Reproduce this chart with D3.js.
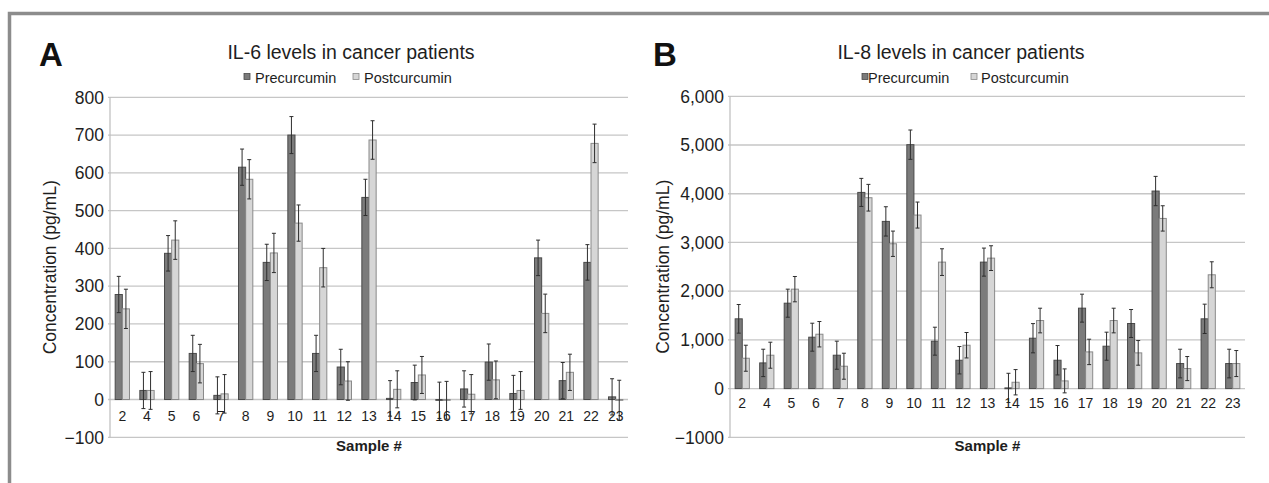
<!DOCTYPE html>
<html>
<head>
<meta charset="utf-8">
<script src="https://cdn.jsdelivr.net/npm/d3@7"></script>
<style>
  html, body { margin: 0; padding: 0; background: #fff; }
  svg { display: block; font-family: "Liberation Sans", Arial, Helvetica, sans-serif; }
</style>
</head>
<body>
<svg id="chart" width="1269" height="483"></svg>
<script>
// ---------- DATA ----------
const samples = ["2","4","5","6","7","8","9","10","11","12","13","14","15","16","17","18","19","20","21","22","23"];
const seriesNames = ["Precurcumin", "Postcurcumin"];

// Panel A: IL-6 (pg/mL)
const il6Pre     = [278, 24, 387, 122, 11, 615, 363, 700, 122, 86, 535, 3, 45, -2, 28, 99, 16, 375, 50, 363, 7];
const il6Post    = [240, 24, 422, 95, 15, 583, 388, 467, 349, 49, 687, 27, 65, -2, 14, 52, 24, 228, 72, 678, -2];
const il6PreErr  = [48, 48, 47, 48, 49, 48, 48, 49, 48, 47, 48, 47, 46, 48, 48, 48, 48, 47, 48, 47, 48];
const il6PostErr = [52, 50, 51, 51, 51, 52, 52, 48, 51, 51, 51, 49, 49, 50, 52, 50, 50, 51, 48, 51, 53];
const il6Ticks      = [-100, 0, 100, 200, 300, 400, 500, 600, 700, 800];
const il6TickLabels = ["\u2212100", "0", "100", "200", "300", "400", "500", "600", "700", "800"];

// Panel B: IL-8 (pg/mL)
const il8Pre     = [1432, 527, 1753, 1055, 685, 4027, 3432, 5007, 973, 582, 2596, 14, 1034, 582, 1651, 870, 1336, 4055, 514, 1432, 514];
const il8Post    = [623, 685, 2041, 1116, 459, 3918, 2973, 3562, 2596, 890, 2678, 130, 1397, 158, 753, 1397, 733, 3493, 411, 2336, 514];
const il8PreErr  = [294, 281, 288, 287, 288, 288, 301, 301, 287, 281, 288, 300, 300, 302, 287, 288, 287, 301, 294, 301, 294];
const il8PostErr = [267, 267, 260, 261, 267, 274, 260, 267, 274, 261, 254, 260, 253, 246, 261, 253, 253, 260, 247, 267, 267];
const il8Ticks      = [-1000, 0, 1000, 2000, 3000, 4000, 5000, 6000];
const il8TickLabels = ["\u22121000", "0", "1,000", "2,000", "3,000", "4,000", "5,000", "6,000"];

// ---------- DRAW ----------
const svg = d3.select("#chart");
const TEXT = "#1e1e1e";
const PRE_FILL = "#7b7b7b", PRE_STROKE = "#4a4a4a";
const POST_FILL = "#d6d6d6", POST_STROKE = "#8a8a8a";
const GRID = "#c6c6c6";

// frame
svg.append("path")
  .attr("d", "M9.5,483 L9.5,13.5 L1269,13.5")
  .attr("fill", "none").attr("stroke", "#8c8c8c").attr("stroke-width", 3.5);

function drawPanel(cfg) {
  const g = svg.append("g");
  const x = d3.scaleBand().domain(samples).range([cfg.left, cfg.right]).padding(0);
  const y = d3.scaleLinear().domain(cfg.domain).range([cfg.bottom, cfg.top]);
  const bw = x.bandwidth();
  const barW = bw * 0.29, off = bw * 0.21;

  // gridlines
  g.append("g").selectAll("line").data(cfg.ticks).join("line")
    .attr("x1", cfg.left - 2).attr("x2", cfg.right)
    .attr("y1", d => y(d)).attr("y2", d => y(d))
    .attr("stroke", GRID).attr("stroke-width", 1.3);

  // vertical axis line
  g.append("line")
    .attr("x1", cfg.left).attr("x2", cfg.left)
    .attr("y1", y(cfg.domain[1])).attr("y2", y(cfg.domain[0]))
    .attr("stroke", "#bdbdbd").attr("stroke-width", 1.2);

  // y tick labels
  g.append("g").selectAll("text").data(cfg.ticks).join("text")
    .attr("x", cfg.left - 6).attr("y", d => y(d))
    .attr("dy", "0.36em").attr("text-anchor", "end")
    .attr("font-size", 17.5).attr("fill", TEXT)
    .text((d, i) => cfg.tickLabels[i]);

  const series = [
    { vals: cfg.pre, errs: cfg.preErr, fill: PRE_FILL, stroke: PRE_STROKE, dx: off },
    { vals: cfg.post, errs: cfg.postErr, fill: POST_FILL, stroke: POST_STROKE, dx: off + barW }
  ];

  series.forEach(s => {
    const rows = samples.map((k, i) => ({ k, v: s.vals[i], e: s.errs[i] }));
    g.append("g").selectAll("rect").data(rows).join("rect")
      .attr("x", d => x(d.k) + s.dx)
      .attr("y", d => Math.min(y(d.v), y(0)))
      .attr("width", barW)
      .attr("height", d => Math.max(Math.abs(y(0) - y(d.v)), 0.8))
      .attr("fill", s.fill).attr("stroke", s.stroke).attr("stroke-width", 1);

    const eb = g.append("g").attr("stroke", "#2e2e2e").attr("stroke-width", 1).attr("fill", "none");
    eb.selectAll("path").data(rows).join("path")
      .attr("d", d => {
        const cx = x(d.k) + s.dx + barW / 2;
        const y1 = y(d.v + d.e), y2 = y(d.v - d.e);
        return `M${cx - 2},${y1}H${cx + 2}M${cx},${y1}V${y2}M${cx - 2},${y2}H${cx + 2}`;
      });
  });

  // x tick labels
  g.append("g").selectAll("text").data(samples).join("text")
    .attr("x", d => x(d) + bw / 2).attr("y", cfg.xLabelY)
    .attr("text-anchor", "middle").attr("font-size", 14).attr("fill", TEXT)
    .text(d => d);

  // axis titles
  g.append("text")
    .attr("x", (cfg.left + cfg.right) / 2).attr("y", 451)
    .attr("text-anchor", "middle").attr("font-size", 15).attr("font-weight", "bold").attr("fill", TEXT)
    .text("Sample #");

  g.append("text")
    .attr("transform", `translate(${cfg.yTitleX},${(cfg.top + cfg.bottom) / 2}) rotate(-90)`)
    .attr("text-anchor", "middle").attr("font-size", 17.5).attr("fill", TEXT)
    .text("Concentration (pg/mL)");

  // panel letter
  g.append("text")
    .attr("x", cfg.letterX).attr("y", 66)
    .attr("font-size", 33).attr("font-weight", "bold").attr("fill", "#111")
    .text(cfg.letter);

  // chart title
  g.append("text")
    .attr("x", cfg.titleX).attr("y", 59)
    .attr("text-anchor", "middle").attr("font-size", 19.5).attr("fill", TEXT)
    .text(cfg.title);

  // legend
  const lg = g.append("g");
  const colors = [[PRE_FILL, PRE_STROKE], [POST_FILL, POST_STROKE]];
  seriesNames.forEach((name, i) => {
    const sx = cfg.titleX + cfg.legend[i][0];
    const tx = cfg.titleX + cfg.legend[i][1];
    lg.append("rect").attr("x", sx).attr("y", 73.5).attr("width", 6).attr("height", 6)
      .attr("fill", colors[i][0]).attr("stroke", colors[i][1]).attr("stroke-width", 0.8);
    lg.append("text").attr("x", tx).attr("y", 83)
      .attr("font-size", 14.5).attr("fill", TEXT).text(name);
  });
}

drawPanel({
  letter: "A", letterX: 39, title: "IL-6 levels in cancer patients", titleX: 351,
  left: 110, right: 628, top: 97.3, bottom: 437.3, domain: [-100, 800],
  ticks: il6Ticks, tickLabels: il6TickLabels,
  pre: il6Pre, post: il6Post, preErr: il6PreErr, postErr: il6PostErr,
  xLabelY: 421, yTitleX: 56,
  legend: [[-107, -96], [2, 13]]
});

drawPanel({
  letter: "B", letterX: 653, title: "IL-8 levels in cancer patients", titleX: 961,
  left: 730, right: 1245, top: 96.3, bottom: 437.3, domain: [-1000, 6000],
  ticks: il8Ticks, tickLabels: il8TickLabels,
  pre: il8Pre, post: il8Post, preErr: il8PreErr, postErr: il8PostErr,
  xLabelY: 408, yTitleX: 669,
  legend: [[-99, -93], [10, 20]]
});
</script>
</body>
</html>
